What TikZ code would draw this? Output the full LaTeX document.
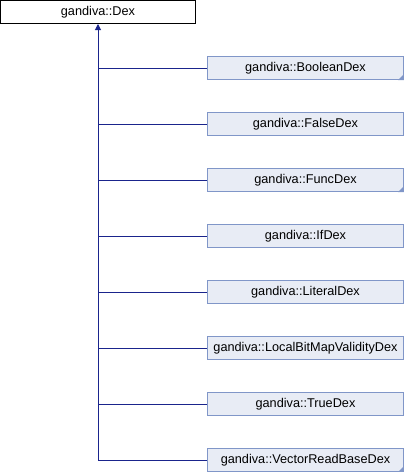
\documentclass[tikz,border=0pt]{standalone}
\usepackage{fontspec}
\setmainfont{Liberation Sans}
\usetikzlibrary{arrows.meta}
\definecolor{dxline}{RGB}{26,36,140}
\definecolor{dxfill}{RGB}{232,236,245}
\definecolor{dxborder}{RGB}{128,150,200}
\tikzset{
  x=1pt,y=-1pt,
  basebox/.style={draw=black,fill=white,line width=1pt,minimum width=195pt,minimum height=23pt,inner sep=0pt,font=\fontsize{12.7}{14}\selectfont},
  childbox/.style={draw=dxborder,fill=dxfill,line width=1pt,minimum width=196pt,minimum height=23pt,inner sep=0pt,font=\fontsize{12.7}{14}\selectfont},
  inh/.style={draw=dxline,line width=1pt},
  corner/.style={fill=dxborder,draw=none}
}
\begin{document}
\begin{tikzpicture}
\useasboundingbox (0,0) rectangle (404,472);
\node[basebox] (dex) at (98,12) {gandiva::Dex};
\node[childbox] (c1) at (305.5,68) {gandiva::BooleanDex};
\node[childbox] (c2) at (305.5,124) {gandiva::FalseDex};
\node[childbox] (c3) at (305.5,180) {gandiva::FuncDex};
\node[childbox] (c4) at (305.5,236) {gandiva::IfDex};
\node[childbox] (c5) at (305.5,292) {gandiva::LiteralDex};
\node[childbox] (c6) at (305.5,348) {gandiva::LocalBitMapValidityDex};
\node[childbox] (c7) at (305.5,404) {gandiva::TrueDex};
\node[childbox] (c8) at (305.5,460) {gandiva::VectorReadBaseDex};
\foreach \n in {c1,c3,c8}{
  \fill[corner] (\n.south east) -- ++(-6,0) -- ++(6,-6) -- cycle;
}
\coordinate (j8) at (98,460);
\draw[inh,-{Triangle[width=6pt,length=6pt]}] (j8) -- (dex.south);
\foreach \n in {c1,c2,c3,c4,c5,c6,c7,c8}{
  \draw[inh] (98,0 |- \n.west) -- (\n.west);
}
\end{tikzpicture}
\end{document}
